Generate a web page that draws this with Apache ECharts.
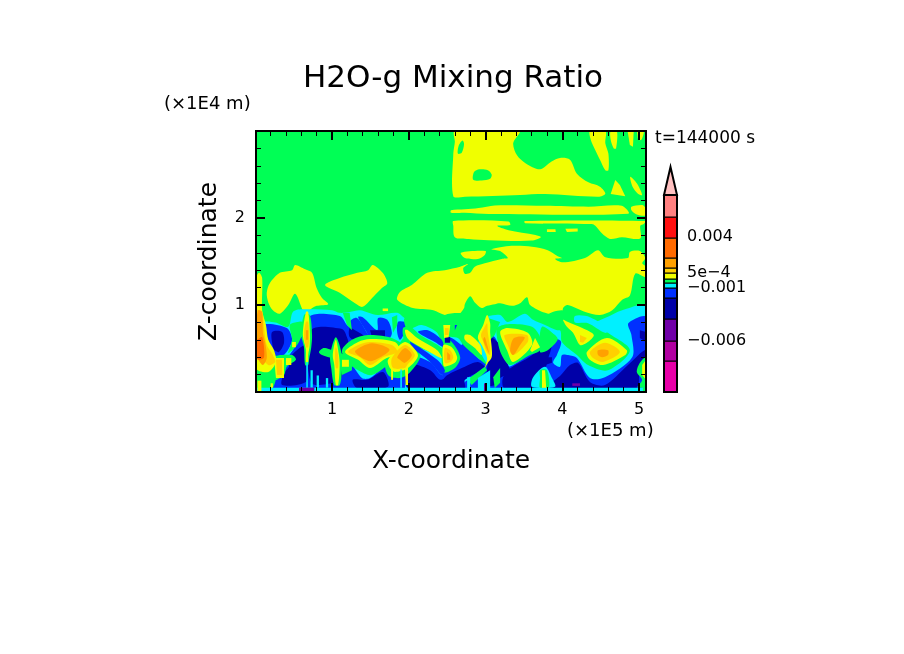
<!DOCTYPE html>
<html>
<head>
<meta charset="utf-8">
<title>H2O-g Mixing Ratio</title>
<style>
html, body { margin: 0; padding: 0; background: #fff; }
#chart { width: 904px; height: 654px; }
</style>
<script src="https://cdn.jsdelivr.net/npm/echarts@6/dist/echarts.min.js"></script>
</head>
<body>
<div id="chart"></div>
<script>
// contour levels, lowest to highest
var levelColors = {
    a: '#e800a8', b: '#b000a0', c: '#7000a8', d: '#0000a8', e: '#0030ff', f: '#00f0ff', g: '#00ff55',
    h: '#f0ff00', i: '#ffd000', j: '#ffa000', k: '#ff6a00', l: '#ff1010', m: '#ff8080'
};
var barLevels = ['a', 'b', 'c', 'd', 'e', 'f', 'g', 'h', 'i', 'j', 'k', 'l', 'm'];
var arrowColor = '#ffc0c0';

// colour bar: band edges and the arrow tip, counted up from the bottom of the bar
var barEdges = [0, 31, 51, 73, 94, 104, 109, 113, 119, 124, 134, 154, 175, 197];
var barTip = 225;
var barLabelPos = [155, 119, 104, 51];
var barLabels = ['0.004', '5e\u22124', '\u22120.001', '\u22120.006'];

// domain, x in 1E5 m and z in 1E4 m
var xRange = [0.01, 5.09];
var zRange = [0, 3];
var xMajor = [1, 2, 3, 4, 5];
var xMinor = [0.2, 0.4, 0.6, 0.8, 1.2, 1.4, 1.6, 1.8, 2.2, 2.4, 2.6, 2.8, 3.2, 3.4, 3.6, 3.8,
    4.2, 4.4, 4.6, 4.8];
var zMajor = [1, 2];
var zMinor = [0.2, 0.4, 0.6, 0.8, 1.2, 1.4, 1.6, 1.8, 2.2, 2.4, 2.6, 2.8];

var fieldBase = [[[0.01, 0], [5.09, 0], [5.09, 3], [0.01, 3]]];

var yellowUpper = [
    [[2.60,3],[3.44,3],[3.36,2.86],[3.41,2.72],[3.52,2.63],[3.71,2.56],[3.86,2.65],[3.97,2.69],[4.10,2.67],[4.19,2.51],[4.34,2.41],[4.49,2.36],[4.56,2.28],[4.47,2.245],[3.78,2.275],[3.45,2.265],[2.73,2.245],[2.58,2.25],[2.58,2.74],[2.60,2.875]],
    [[4.36,3],[4.56,3],[4.56,2.86],[4.60,2.74],[4.60,2.55],[4.56,2.55],[4.49,2.67],[4.43,2.78],[4.37,2.90]],
    [[4.63,3],[4.71,3],[4.70,2.80],[4.67,2.80],[4.63,2.90]],
    [[4.85,3],[4.93,3],[4.92,2.82],[4.88,2.84]],
    [[4.98,3],[5.06,3],[5.03,2.90],[4.99,2.90],[4.98,2.95]],
    [[4.69,2.436],[4.75,2.38],[4.82,2.25],[4.63,2.275]],
    [[4.885,2.475],[4.97,2.40],[5.04,2.265],[4.985,2.28],[4.915,2.36]],
    [[2.55,2.09],[2.73,2.10],[2.91,2.115],[3.12,2.145],[3.775,2.14],[4.34,2.13],[4.775,2.14],[4.86,2.05],[3.04,2.045],[2.73,2.06],[2.55,2.06]],
    [[4.90,2.13],[5.04,2.15],[5.08,2.12],[5.09,2.03],[4.97,2.04],[4.90,2.09]],
    [[2.58,1.965],[3.30,1.96],[3.32,1.92],[3.15,1.91],[3.30,1.86],[3.65,1.805],[3.72,1.78],[3.60,1.74],[3.04,1.745],[2.78,1.76],[2.60,1.78],[2.58,1.91]],
    [[3.51,1.965],[5.08,1.965],[5.06,1.93],[5.015,1.91],[5.015,1.765],[4.775,1.78],[4.62,1.76],[4.515,1.825],[4.43,1.91],[4.385,1.93],[3.515,1.94]],
    [[3.80,1.87],[3.91,1.87],[3.915,1.84],[3.80,1.84]],
    [[4.04,1.876],[4.20,1.88],[4.20,1.845],[4.06,1.84]],
    [[5.09,1.32],[4.95,1.36],[4.88,1.11],[4.78,1.06],[4.65,0.94],[4.49,0.885],[4.30,0.92],[4.07,1.0],[4.01,0.965],[3.995,0.885],[3.775,0.91],[3.58,1.0],[3.54,1.09],[3.45,1.02],[3.345,0.99],[3.19,1.02],[3.12,1.01],[3.02,0.99],[2.95,0.965],[2.86,1.03],[2.80,1.10],[2.73,1.01],[2.72,0.965],[2.64,0.885],[2.47,0.885],[2.32,0.94],[2.055,0.965],[1.85,1.06],[1.885,1.15],[2.04,1.23],[2.24,1.37],[2.47,1.40],[2.67,1.44],[2.77,1.47],[2.71,1.425],[2.73,1.36],[2.80,1.37],[2.86,1.44],[2.99,1.48],[3.21,1.53],[3.29,1.54],[3.19,1.62],[3.08,1.64],[3.34,1.68],[3.605,1.67],[3.81,1.63],[3.94,1.56],[3.995,1.54],[3.905,1.53],[4.01,1.49],[4.295,1.54],[4.465,1.63],[4.56,1.55],[4.855,1.54],[4.88,1.61],[5.01,1.62],[5.08,1.54],[5.04,1.48],[5.09,1.44]],
    [[2.68,1.60],[3.0,1.62],[2.99,1.575],[2.90,1.53],[2.73,1.54]],
    [[0.52,1.46],[0.65,1.41],[0.74,1.37],[0.80,1.195],[0.87,1.08],[0.95,1.01],[0.80,0.99],[0.71,0.94],[0.67,0.885],[0.62,0.94],[0.52,1.13],[0.43,1.0],[0.32,0.90],[0.23,0.94],[0.17,1.03],[0.15,1.14],[0.19,1.25],[0.32,1.37],[0.48,1.40]],
    [[1.53,1.46],[1.66,1.37],[1.72,1.25],[1.65,1.195],[1.56,1.115],[1.40,0.98],[1.30,1.02],[1.10,1.14],[0.91,1.23],[1.10,1.31],[1.33,1.37],[1.47,1.40]],
    [[1.66,0.96],[1.73,0.96],[1.73,0.93],[1.66,0.93]]
];
var greenHoles = [
    [[2.64,2.74],[2.65,2.83],[2.70,2.89],[2.72,2.85],[2.69,2.75]],
    [[2.84,2.44],[2.85,2.53],[2.92,2.56],[3.03,2.55],[3.08,2.50],[3.06,2.45],[2.95,2.43]]
];
var cyanCold = [
    [[0.10,0],[0.10,0.79],[0.26,0.80],[0.43,0.75],[0.49,0.92],[0.61,0.95],[1.0,0.94],[1.10,0.91],[1.23,0.92],[1.365,0.94],[1.59,0.885],[1.85,0.91],[1.99,0.83],[3.03,0.875],[3.19,0.885],[3.29,0.805],[3.51,0.90],[3.62,0.83],[3.775,0.77],[3.97,0.71],[4.19,0.85],[4.36,0.79],[4.555,0.85],[4.78,0.94],[5.09,0.98],[5.09,0]]
];
var blueCold = [
    [[0.10,0.77],[0.41,0.735],[0.48,0.60],[0.40,0.45],[0.24,0.335],[0.18,0.45],[0.11,0.565]],
    [[0.70,0.86],[1.10,0.875],[1.195,0.77],[1.31,0.645],[1.21,0.54],[1.26,0.195],[1.365,0.045],[0.67,0.045],[0.66,0.37]],
    [[0.66,0.655],[0.66,0.045],[0.19,0.045],[0.35,0.31],[0.49,0.48],[0.56,0.60]],
    [[1.23,0.805],[1.325,0.85],[1.455,0.68],[1.495,0.60],[1.23,0.575]],
    [[1.34,0.86],[1.40,0.86],[1.59,0.71],[1.60,0.85],[1.72,0.83],[1.78,0.68],[1.73,0.60],[1.495,0.575],[1.455,0.68]],
    [[1.86,0.805],[1.98,0.79],[1.95,0.69],[1.885,0.60],[1.85,0.68]],
    [[1.23,0.335],[1.39,0.16],[1.495,0.16],[1.72,0.31],[1.755,0.045],[1.23,0.045]],
    [[1.72,0.275],[1.95,0.25],[1.95,0.045],[1.72,0.045]],
    [[2.02,0.40],[2.28,0.345],[2.43,0.195],[2.54,0.23],[2.54,0.045],[1.98,0.045]],
    [[2.47,0.62],[2.56,0.62],[2.69,0.54],[2.71,0.565],[2.90,0.39],[3.03,0.31],[2.99,0.23],[2.73,0.14],[2.73,0.045],[2.47,0.045]],
    [[3.03,0.655],[3.12,0.63],[3.21,0.445],[3.29,0.29],[3.55,0.425],[3.905,0.61],[3.985,0.575],[3.93,0.425],[3.88,0.335],[3.97,0.29],[3.995,0.425],[4.075,0.425],[4.19,0.39],[4.36,0.16],[4.555,0.17],[4.91,0.40],[4.90,0.655],[4.86,0.79],[5.09,0.86],[5.09,0.045],[2.73,0.045],[2.73,0.115],[2.99,0.25],[3.03,0.39]]
];
var darkCold = [
    [[0.22,0.69],[0.35,0.69],[0.375,0.565],[0.31,0.46],[0.245,0.485],[0.22,0.565]],
    [[0.44,0.39],[0.66,0.54],[0.67,0.29],[0.66,0.115],[0.35,0.08],[0.375,0.22],[0.44,0.29]],
    [[0.73,0.71],[1.13,0.725],[1.195,0.63],[1.22,0.515],[1.16,0.39],[1.12,0.16],[1.03,0.105],[0.73,0.105]],
    [[1.495,0.71],[1.69,0.71],[1.69,0.63],[1.53,0.60]],
    [[1.23,0.735],[1.30,0.71],[1.43,0.63],[1.365,0.575],[1.23,0.63]],
    [[1.27,0.14],[1.455,0.14],[1.665,0.23],[1.73,0.06],[1.325,0.045]],
    [[2.02,0.31],[2.28,0.25],[2.41,0.14],[2.54,0.195],[2.54,0.045],[1.99,0.045]],
    [[2.47,0.17],[2.73,0.29],[2.90,0.345],[2.99,0.275],[2.73,0.14],[2.73,0.045],[2.47,0.045]],
    [[3.06,0.63],[3.19,0.54],[3.25,0.39],[3.32,0.23],[3.19,0.16],[3.12,0.08],[3.02,0.08],[3.03,0.345],[3.07,0.48]],
    [[3.29,0.25],[3.55,0.39],[3.81,0.54],[3.86,0.53],[3.81,0.37],[3.775,0.25],[3.71,0.16],[3.775,0.08],[3.97,0.185],[4.10,0.31],[4.205,0.335],[4.36,0.115],[4.555,0.08],[4.855,0.31],[5.09,0.485],[5.09,0.31],[5.01,0.275],[4.96,0.045],[3.25,0.045],[3.22,0.14]],
    [[5.01,0.71],[5.09,0.69],[5.09,0.575],[5.01,0.62]],
    [[3.775,0.40],[3.865,0.40],[3.865,0.335],[3.775,0.31]]
];
var greenIslands = [
    [[2.47,0.885],[3.03,0.875],[3.02,0.805],[2.95,0.655],[2.90,0.54],[2.95,0.425],[3.02,0.31],[2.90,0.39],[2.82,0.45],[2.71,0.54],[2.64,0.62],[2.47,0.655]],
    [[1.95,0.85],[2.47,0.85],[2.47,0.655],[2.50,0.54],[2.45,0.48],[2.37,0.68],[2.17,0.77],[2.05,0.735],[1.99,0.69]],
    [[3.15,0.735],[3.29,0.78],[3.605,0.75],[3.71,0.63],[3.71,0.48],[3.58,0.425],[3.32,0.31],[3.21,0.425],[3.16,0.575]],
    [[3.735,0.75],[3.905,0.655],[3.94,0.60],[3.81,0.48],[3.71,0.46]],
    [[3.995,0.94],[4.165,0.86],[4.335,0.85],[4.52,0.735],[4.595,0.68],[4.88,0.48],[4.595,0.25],[4.335,0.31],[4.19,0.425],[3.995,0.575],[3.97,0.71],[3.775,0.79],[3.775,0.875]],
    [[0.635,0.885],[0.71,0.885],[0.74,0.655],[0.73,0.515],[0.70,0.37],[0.69,0.31],[0.65,0.31],[0.635,0.515],[0.60,0.655]],
    [[0.45,0.77],[0.545,0.805],[0.62,0.805],[0.62,0.69],[0.545,0.54],[0.43,0.45],[0.48,0.60]],
    [[0.22,0.39],[0.48,0.425],[0.53,0.37],[0.41,0.29],[0.375,0.195],[0.245,0.14]],
    [[0.01,0.275],[0.22,0.37],[0.27,0.16],[0.19,0],[0.01,0]],
    [[0.83,0.46],[0.895,0.505],[1.03,0.46],[1.03,0.39],[0.87,0.425]],
    [[1.05,0.63],[1.13,0.425],[1.13,0.25],[1.10,0.08],[1.03,0.08],[0.99,0.275],[0.975,0.425]],
    [[1.10,0.45],[1.26,0.39],[1.26,0.25],[1.13,0.195]],
    [[1.14,0.91],[1.23,0.91],[1.26,0.71],[1.195,0.77]],
    [[1.78,0.86],[1.85,0.885],[1.85,0.77],[1.795,0.68]],
    [[1.13,0.48],[1.26,0.60],[1.47,0.655],[1.78,0.62],[1.99,0.48],[1.82,0.37],[1.52,0.195],[1.34,0.25],[1.195,0.345]],
    [[1.69,0.39],[1.86,0.54],[1.95,0.62],[2.15,0.425],[2.02,0.23],[1.885,0.16],[1.73,0.195]],
    [[1.925,0.735],[2.02,0.75],[2.15,0.655],[2.43,0.505],[2.48,0.39],[2.37,0.425],[2.055,0.54],[1.95,0.575]],
    [[3.03,0.85],[3.19,0.805],[3.12,0.655],[3.06,0.60]],
    [[2.76,0.14],[2.99,0.29],[3.02,0.25],[2.82,0.08]],
    [[3.10,0.17],[3.19,0.275],[3.19,0.105],[3.12,0.045]],
    [[2.45,0.62],[2.56,0.575],[2.67,0.40],[2.60,0.275],[2.45,0.23]],
    [[4.97,0.23],[5.01,0.335],[5.09,0.40],[5.09,0.06],[4.98,0.06],[5.04,0.14]]
];
var cyanStreaks = [
    [[4.165,0.875],[4.36,0.86],[4.62,0.71],[4.555,0.68],[4.335,0.79],[4.165,0.80]],
    [[3.62,0.17],[3.775,0.29],[3.865,0.16],[3.905,0.06],[3.605,0.06]],
    [[2.76,0.17],[2.80,0.17],[2.80,0],[2.76,0]],
    [[2.90,0.16],[3.06,0.25],[3.06,0.045],[2.90,0.045]]
];
var greenStreaks = [
    [[3.71,0.16],[3.71,0.25],[3.80,0.25],[3.825,0.045],[3.71,0.045]]
];
var blueStreaks = [
    [[2.02,0.575],[2.37,0.37],[2.47,0.25],[2.43,0.195],[2.28,0.345],[2.055,0.505]],
    [[2.12,0.69],[2.25,0.71],[2.43,0.60],[2.45,0.52],[2.34,0.575]],
    [[2.60,0.77],[2.63,0.77],[2.60,0.71]]
];
var darkStreaks = [
    [[2.47,0.655],[2.54,0.63],[2.54,0.565],[2.47,0.565]]
];
var yellowWarm = [
    [[0.01,1.31],[0.05,1.37],[0.09,1.31],[0.09,0.94],[0.14,0.77],[0.17,0.60],[0.245,0.48],[0.27,0.345],[0.17,0.23],[0.01,0.275]],
    [[0.245,0.39],[0.375,0.39],[0.375,0.16],[0.27,0.16]],
    [[0.40,0.39],[0.47,0.39],[0.47,0.31],[0.40,0.31]],
    [[0.48,0.575],[0.53,0.575],[0.53,0.515],[0.48,0.515]],
    [[0.66,0.92],[0.69,0.92],[0.71,0.71],[0.71,0.54],[0.69,0.425],[0.69,0.345],[0.66,0.345],[0.66,0.485],[0.62,0.655]],
    [[1.05,0.60],[1.09,0.425],[1.10,0.31],[1.08,0.08],[1.05,0.08],[1.03,0.31],[1.01,0.425]],
    [[1.13,0.37],[1.22,0.37],[1.22,0.29],[1.13,0.29]],
    [[1.17,0.46],[1.34,0.575],[1.495,0.61],[1.82,0.575],[1.885,0.46],[1.69,0.38],[1.495,0.275],[1.34,0.37]],
    [[1.73,0.37],[1.95,0.575],[2.12,0.425],[1.99,0.275],[1.82,0.23],[1.755,0.275]],
    [[1.95,0.275],[1.99,0.275],[1.99,0.08],[1.96,0.08]],
    [[1.77,0.31],[1.795,0.31],[1.795,0.14],[1.77,0.14]],
    [[1.95,0.71],[1.99,0.71],[2.11,0.62],[2.37,0.48],[2.43,0.39],[2.34,0.425],[2.055,0.565],[1.98,0.62]],
    [[2.45,0.77],[2.54,0.77],[2.52,0.63],[2.46,0.62]],
    [[2.45,0.54],[2.56,0.515],[2.63,0.40],[2.60,0.335],[2.47,0.29],[2.45,0.31]],
    [[2.73,0.655],[2.80,0.655],[2.93,0.54],[2.95,0.425],[2.86,0.505],[2.73,0.60]],
    [[3.02,0.885],[3.06,0.79],[3.06,0.68],[3.08,0.515],[3.08,0.40],[3.03,0.335],[2.99,0.275],[3.02,0.39],[2.95,0.54],[2.90,0.63],[2.97,0.77]],
    [[3.19,0.69],[3.29,0.735],[3.55,0.68],[3.605,0.54],[3.36,0.345],[3.28,0.48]],
    [[3.58,0.48],[3.645,0.62],[3.71,0.515],[3.605,0.46]],
    [[3.735,0.25],[3.775,0.25],[3.79,0.045],[3.735,0.045]],
    [[4.01,0.83],[4.075,0.805],[4.26,0.735],[4.41,0.655],[4.32,0.565],[4.23,0.54],[4.14,0.68],[4.06,0.75]],
    [[4.32,0.46],[4.58,0.62],[4.84,0.48],[4.82,0.425],[4.53,0.31],[4.36,0.37]],
    [[5.04,0.31],[5.09,0.37],[5.09,0.14],[5.04,0.195]]
];
var goldWarm = [
    [[0.01,0.94],[0.09,0.92],[0.115,0.735],[0.15,0.54],[0.23,0.425],[0.26,0.345],[0.17,0.31],[0.04,0.46],[0.01,0.54]],
    [[0.27,0.37],[0.35,0.37],[0.35,0.195],[0.285,0.195]],
    [[0.66,0.805],[0.69,0.805],[0.70,0.62],[0.69,0.515],[0.66,0.515],[0.635,0.655]],
    [[1.05,0.515],[1.08,0.425],[1.08,0.275],[1.05,0.275],[1.04,0.425]],
    [[1.21,0.46],[1.34,0.54],[1.495,0.575],[1.78,0.54],[1.85,0.46],[1.665,0.40],[1.495,0.31],[1.365,0.40]],
    [[1.78,0.39],[1.95,0.54],[2.08,0.425],[1.98,0.31],[1.95,0.275],[1.795,0.275]],
    [[2.47,0.735],[2.52,0.735],[2.52,0.655],[2.47,0.655]],
    [[2.47,0.505],[2.54,0.48],[2.58,0.40],[2.54,0.345],[2.47,0.335]],
    [[3.02,0.79],[3.03,0.68],[3.06,0.505],[3.06,0.425],[3.02,0.45],[2.97,0.575],[2.94,0.655],[2.98,0.735]],
    [[3.25,0.655],[3.54,0.655],[3.55,0.575],[3.36,0.425],[3.29,0.54]],
    [[4.23,0.655],[4.32,0.62],[4.27,0.565],[4.23,0.575]],
    [[4.36,0.46],[4.555,0.565],[4.75,0.46],[4.53,0.345],[4.40,0.39]]
];
var orangeWarm = [
    [[0.04,0.94],[0.09,0.92],[0.10,0.68],[0.13,0.565],[0.15,0.39],[0.10,0.31],[0.04,0.37],[0.01,0.425],[0.01,0.77]],
    [[0.66,0.71],[0.69,0.71],[0.69,0.60],[0.66,0.60]],
    [[1.30,0.47],[1.52,0.56],[1.75,0.485],[1.52,0.355],[1.39,0.39]],
    [[1.85,0.40],[1.95,0.505],[2.04,0.425],[1.95,0.335],[1.885,0.37]],
    [[2.50,0.46],[2.54,0.425],[2.54,0.37],[2.50,0.37]],
    [[2.99,0.63],[3.03,0.515],[3.045,0.45],[3.02,0.485],[2.97,0.60]],
    [[3.32,0.48],[3.37,0.62],[3.51,0.63],[3.45,0.54],[3.36,0.425]],
    [[4.465,0.48],[4.595,0.48],[4.595,0.425],[4.52,0.40],[4.465,0.425]]
];
var darkOrangeWarm = [
    [[0.02,0.60],[0.09,0.63],[0.115,0.40],[0.05,0.37],[0.01,0.39],[0.01,0.60]]
];
var cyanGround = [
    [[0.01,0.05],[5.09,0.05],[5.09,0],[0.01,0]],
    [[0.665,0.345],[0.685,0.345],[0.685,0.05],[0.665,0.05]],
    [[0.72,0.25],[0.75,0.25],[0.75,0.05],[0.72,0.05]],
    [[0.80,0.19],[0.83,0.19],[0.83,0.05],[0.80,0.05]],
    [[0.92,0.16],[0.95,0.16],[0.95,0.05],[0.92,0.05]],
    [[1.89,0.26],[1.91,0.26],[1.91,0.05],[1.89,0.05]]
];
var yellowGround = [
    [[0.03,0.13],[0.08,0.13],[0.08,0],[0.03,0]],
    [[0.20,0.10],[0.23,0.10],[0.23,0.05],[0.20,0.05]]
];
var greenGround = [
    [[5.05,0.05],[5.09,0.05],[5.09,0],[5.05,0]]
];
var purpleGround = [
    [[0.57,0.05],[0.77,0.05],[0.77,0],[0.57,0]],
    [[2.98,0.10],[3.01,0.10],[3.01,0],[2.98,0]],
    [[4.13,0.10],[4.23,0.10],[4.23,0.07],[4.13,0.07]]
];

// paint order, later contours cover earlier ones
var paintOrder = [
    ['g', fieldBase], ['h', yellowUpper], ['g', greenHoles], ['f', cyanCold], ['e', blueCold],
    ['d', darkCold], ['g', greenIslands], ['f', cyanStreaks], ['g', greenStreaks], ['e', blueStreaks],
    ['d', darkStreaks], ['h', yellowWarm], ['i', goldWarm], ['j', orangeWarm], ['k', darkOrangeWarm],
    ['f', cyanGround], ['h', yellowGround], ['g', greenGround], ['c', purpleGround]
];

var FONT = 'DejaVu Sans';

var contours = [];
paintOrder.forEach(function (layer) {
    layer[1].forEach(function (points) {
        contours.push({ level: layer[0], points: points });
    });
});

var bands = barLevels.map(function (key, b) {
    return [barEdges[b], barEdges[b + 1], b];
});

function renderContour(params, api) {
    var contour = contours[params.dataIndex];
    return {
        type: 'polygon',
        shape: {
            points: contour.points.map(function (p) { return api.coord(p); }),
            smooth: contour.points.length > 4 ? 0.3 : 0
        },
        style: { fill: levelColors[contour.level] }
    };
}

function renderBand(params, api) {
    var y0 = api.coord([0, api.value(0)])[1];
    var y1 = api.coord([0, api.value(1)])[1];
    var cs = params.coordSys;
    return {
        type: 'rect',
        shape: { x: cs.x, y: y1, width: cs.width, height: y0 - y1 },
        style: { fill: levelColors[barLevels[api.value(2)]], stroke: '#000', lineWidth: 1 }
    };
}

function renderArrow(params, api) {
    var top = barEdges[barEdges.length - 1];
    var cs = params.coordSys;
    var yBase = api.coord([0, top])[1];
    var yTip = api.coord([0, barTip])[1];
    var yBottom = api.coord([0, 0])[1];
    return {
        type: 'group',
        children: [{
            type: 'polygon',
            shape: { points: [[cs.x, yBase], [cs.x + cs.width / 2, yTip], [cs.x + cs.width, yBase]] },
            style: { fill: arrowColor, stroke: '#000', lineWidth: 2 }
        }, {
            type: 'rect',
            shape: { x: cs.x, y: yBase, width: cs.width, height: yBottom - yBase },
            style: { fill: 'none', stroke: '#000', lineWidth: 2 }
        }]
    };
}

function frameAxis(position, ticks, length, width) {
    var horizontal = position === 'top' || position === 'bottom';
    return {
        type: 'value',
        position: position,
        gridIndex: 0,
        z: 5,
        min: horizontal ? xRange[0] : zRange[0],
        max: horizontal ? xRange[1] : zRange[1],
        splitLine: { show: false },
        axisLine: { show: true, onZero: false, lineStyle: { color: '#000', width: 2 } },
        axisTick: { show: true, inside: true, length: length, customValues: ticks,
            lineStyle: { color: '#000', width: width } },
        axisLabel: { show: false }
    };
}

var dom = document.getElementById('chart');
var myChart = echarts.init(dom);

var xBottom = frameAxis('bottom', xMajor, 9, 2);
xBottom.axisLabel = { show: true, customValues: xMajor, margin: 10, color: '#000',
    fontFamily: FONT, fontSize: 16 };
xBottom.name = 'X-coordinate';
xBottom.nameLocation = 'middle';
xBottom.nameGap = 57;
xBottom.nameTextStyle = { color: '#000', fontFamily: FONT, fontSize: 25 };

var zLeft = frameAxis('left', zMajor, 9, 2);
zLeft.axisLabel = { show: true, customValues: zMajor, margin: 11, color: '#000',
    fontFamily: FONT, fontSize: 16 };
zLeft.name = 'Z-coordinate';
zLeft.nameLocation = 'middle';
zLeft.nameGap = 34;
zLeft.nameTextStyle = { color: '#000', fontFamily: FONT, fontSize: 25 };

var option = {
    animation: false,
    backgroundColor: '#fff',
    title: {
        text: 'H2O-g Mixing Ratio',
        left: 448,
        top: 58,
        textAlign: 'center',
        textStyle: { color: '#000', fontFamily: FONT, fontWeight: 'normal', fontSize: 31 }
    },
    grid: [
        { left: 256, top: 131, width: 390, height: 261 },
        { left: 664, top: 167, width: 13, height: 225 }
    ],
    xAxis: [
        xBottom,
        frameAxis('bottom', xMinor, 5, 1),
        frameAxis('top', xMajor, 9, 2),
        frameAxis('top', xMinor, 5, 1),
        { type: 'value', gridIndex: 1, min: 0, max: 1, show: false }
    ],
    yAxis: [
        zLeft,
        frameAxis('left', zMinor, 5, 1),
        frameAxis('right', zMajor, 9, 2),
        frameAxis('right', zMinor, 5, 1),
        {
            type: 'value',
            gridIndex: 1,
            position: 'right',
            min: 0,
            max: barTip,
            splitLine: { show: false },
            axisLine: { show: false },
            axisTick: { show: false },
            axisLabel: {
                customValues: barLabelPos,
                margin: 10,
                color: '#000',
                fontFamily: FONT,
                fontSize: 16,
                formatter: function (value) { return barLabels[barLabelPos.indexOf(value)]; }
            }
        }
    ],
    series: [
        {
            type: 'custom',
            name: 'H2O-g',
            xAxisIndex: 0,
            yAxisIndex: 0,
            clip: true,
            renderItem: renderContour,
            data: contours.map(function (c, i) { return [i]; }),
            encode: { x: -1, y: -1 },
            silent: true
        },
        {
            type: 'custom',
            xAxisIndex: 4,
            yAxisIndex: 4,
            renderItem: renderBand,
            data: bands,
            encode: { x: -1, y: -1 },
            silent: true
        },
        {
            type: 'custom',
            xAxisIndex: 4,
            yAxisIndex: 4,
            renderItem: renderArrow,
            data: [[0]],
            encode: { x: -1, y: -1 },
            silent: true
        }
    ],
    graphic: [
        { type: 'text', left: 164, top: 95, style: { text: '(\u00d71E4 m)', fill: '#000', font: '18px "DejaVu Sans"' } },
        { type: 'text', left: 567, top: 422, style: { text: '(\u00d71E5 m)', fill: '#000', font: '18px "DejaVu Sans"' } },
        { type: 'text', left: 655, top: 130, style: { text: 't=144000 s', fill: '#000', font: '17px "DejaVu Sans"' } }
    ]
};

if (option && typeof option === 'object') {
    myChart.setOption(option, true);
}
</script>
</body>
</html>
